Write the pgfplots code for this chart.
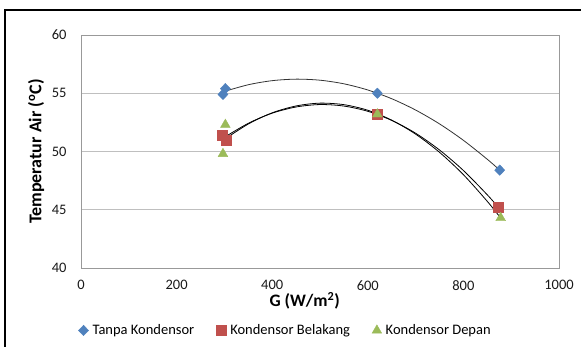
\documentclass[border=0pt]{standalone}
\usepackage{pgfplots}
\pgfplotsset{compat=1.18}
\usepackage{fontspec}
\setmainfont{Carlito}
\definecolor{cblue}{HTML}{4F81BD}
\definecolor{cred}{HTML}{C0504D}
\definecolor{cgreen}{HTML}{9BBB59}
\begin{document}
\begin{tikzpicture}[x=1pt,y=1pt]
\path[use as bounding box] (0,0) rectangle (581,347);
\draw[black, line width=1.6pt] (5,-10) -- (5,337) -- (600,337);
\begin{axis}[
  at={(81pt,79pt)}, anchor=south west,
  scale only axis, width=478pt, height=233pt,
  xmin=0, xmax=1000, ymin=40, ymax=60,
  xtick={0,200,...,1000}, ytick={40,45,...,60},
  ymajorgrids,
  grid style={color=black!25, line width=0.8pt},
  axis line style={color=black!40, line width=0.8pt},
  tick style={draw=none},
  /pgf/number format/assume math mode=true,
  /pgf/number format/1000 sep={},
  ticklabel style={font=\fontsize{14.5}{16}\selectfont, color=black!90},
  xticklabel style={yshift=-9pt},
  yticklabel style={xshift=-11pt},
  xlabel={G (W/m\textsuperscript{2})},
  ylabel={Temperatur Air (\textsuperscript{o}C)},
  xlabel style={at={(axis description cs:0.468,-0.142)}, anchor=center, font=\fontsize{17.5}{19}\selectfont\bfseries},
  ylabel style={at={(axis description cs:-0.094,0.5)}, anchor=center, font=\fontsize{18}{20}\selectfont\bfseries},
  legend columns=3,
  legend style={at={(axis description cs:0.428,-0.268)}, anchor=center, draw=none, fill=none,
    font=\fontsize{14.5}{17}\selectfont,
    /tikz/every even column/.append style={column sep=20pt},
    /tikz/every odd column/.append style={column sep=2pt}},
  legend image code/.code={\draw[#1] plot coordinates {(0pt,0pt)};},
  legend cell align=left,
]
\addplot[only marks, mark=diamond*, mark size=5.2pt, mark options={xscale=1.3}, color=cblue, fill=cblue] coordinates {
  (297,54.9) (302,55.4) (620,55.0) (876,48.4)};
\addlegendentry{Tanpa Kondensor}
\addplot[only marks, mark=square*, mark size=5pt, color=cred, fill=cred] coordinates {
  (295,51.4) (303,51.0) (620,53.2) (873,45.2)};
\addlegendentry{Kondensor Belakang}
\addplot[only marks, mark=triangle*, mark size=5.6pt, color=cgreen, fill=cgreen] coordinates {
  (302,52.3) (297,49.8) (620,53.2) (878,44.3)};
\addlegendentry{Kondensor Depan}
\addplot[forget plot, smooth, black!80, line width=0.8pt] coordinates {
  (297,55.12) (350,55.73) (400,56.08) (450,56.21) (500,56.12) (550,55.81) (600,55.28)
  (650,54.53) (700,53.56) (750,52.37) (800,50.96) (850,49.33) (876,48.40)};
\addplot[forget plot, smooth, black, line width=0.8pt] coordinates {
  (295,51.10) (350,52.42) (400,53.29) (450,53.82) (500,54.03) (550,53.90) (600,53.45)
  (650,52.67) (700,51.57) (750,50.13) (800,48.37) (850,46.28) (873,45.21)};
\addplot[forget plot, smooth, black, line width=0.8pt] coordinates {
  (297,50.96) (350,52.36) (400,53.32) (450,53.91) (500,54.15) (550,54.02) (600,53.54)
  (650,52.69) (700,51.49) (750,49.93) (800,48.01) (850,45.72) (878,44.29)};
\end{axis}
\end{tikzpicture}
\end{document}
